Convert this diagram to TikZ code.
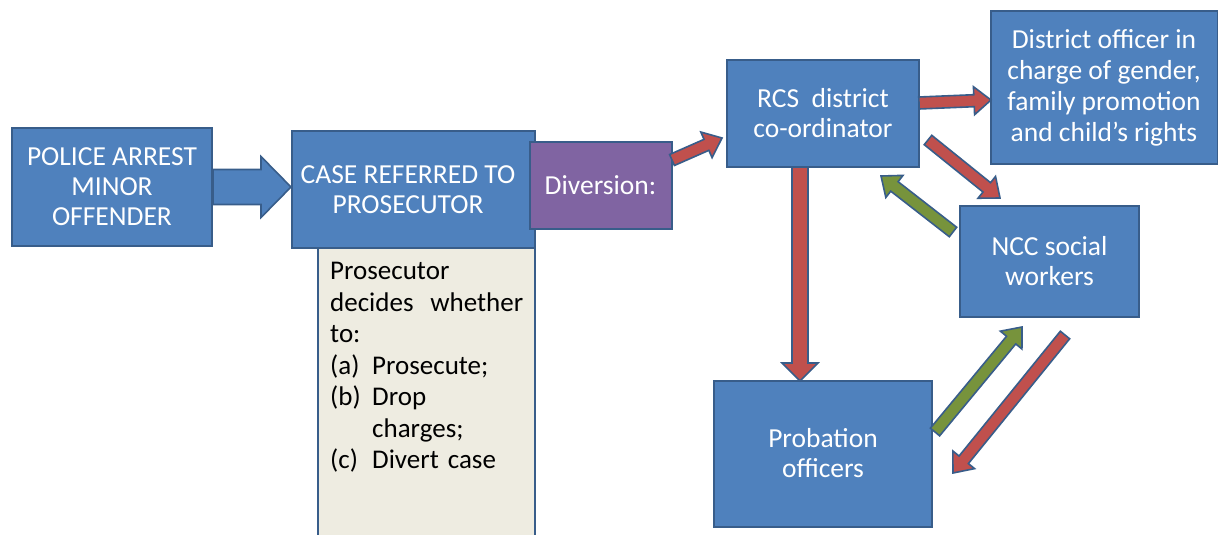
\documentclass[tikz,border=0pt]{standalone}
\usepackage{fontspec}
\setmainfont{Carlito}
\usetikzlibrary{calc}
\definecolor{boxblue}{HTML}{4F81BD}
\definecolor{edgeblue}{HTML}{385D8A}
\definecolor{divpurple}{HTML}{8064A2}
\definecolor{arrred}{HTML}{C0504D}
\definecolor{arrgreen}{HTML}{77933C}
\definecolor{beige}{HTML}{EEECE1}
\newcommand\blockarr[6]{%
  \path ($(#3)!#6!(#2)$) coordinate (bh);
  \filldraw[#1] ($(#2)!#4!90:(#3)$) -- ($(bh)!#4!-90:(#2)$) -- ($(bh)!#5!-90:(#2)$) -- (#3)
     -- ($(bh)!#5!90:(#2)$) -- ($(bh)!#4!90:(#2)$) -- ($(#2)!#4!-90:(#3)$) -- cycle;}
\tikzset{
  bluebox/.style={draw=edgeblue, line width=2pt, fill=boxblue, text=white, align=center,
    font=\fontsize{27.5}{30}\selectfont, inner sep=0pt},
  divbox/.style={bluebox, fill=divpurple},
  notebox/.style={draw=edgeblue, line width=2pt, fill=beige},
  notetext/.style={align=left, text width=193pt, inner sep=0pt, anchor=north west,
    font=\fontsize{27}{31.5}\selectfont},
  redarr/.style={fill=arrred, draw=edgeblue, line width=1.6pt, line join=miter},
  greenarr/.style={fill=arrgreen, draw=edgeblue, line width=1.6pt, line join=miter},
  fatarr/.style={fill=boxblue, draw=edgeblue, line width=1.6pt, line join=miter},
}
\begin{document}
\begin{tikzpicture}[x=1pt,y=-1pt]
\useasboundingbox (0,0) rectangle (1218,535);
% prosecutor note box (extends beyond the bottom)
\draw[notebox] (318,248) rectangle (535,560);
\node[notetext] (note) at (330,262) {Prosecutor\\
decides\hfill whether\\
to:\\
\makebox[42pt][l]{(a)}Prosecute;\\
\makebox[42pt][l]{(b)}Drop\\
\hspace*{42pt}charges;\\
\makebox[42pt][l]{(c)}\mbox{Divert case}};
% boxes
\node[bluebox, minimum width=200pt, minimum height=118pt] (police) at (112,187) {POLICE ARREST\\MINOR\\OFFENDER};
\node[bluebox, minimum width=243pt, minimum height=117pt] (case) at (413.5,189.5) {};
\node[text=white, align=center, font=\fontsize{27.5}{30}\selectfont, inner sep=0pt] (casetxt) at (408,189.5) {CASE REFERRED TO\\PROSECUTOR};
\node[divbox, minimum width=142pt, minimum height=87pt] (div) at (600.5,185) {Diversion:};
\node[bluebox, minimum width=192pt, minimum height=107pt] (rcs) at (823,113.5) {RCS\ \ district\\co-ordinator};
\node[bluebox, minimum width=227pt, minimum height=152pt, font=\fontsize{27.5}{31}\selectfont] (dist) at (1104,87.5) {District officer in\\charge of gender,\\family promotion\\and child’s rights};
\node[bluebox, minimum width=179pt, minimum height=111pt] (ncc) at (1049.5,261.5) {NCC social\\workers};
\node[bluebox, minimum width=218pt, minimum height=146pt] (prob) at (823,453.5) {Probation\\officers};
% arrow end points
\coordinate (fa1) at (police.east);
\coordinate (fa2) at (case.west |- police.east);
\coordinate (d1) at (672,160);   \coordinate (d2) at (722,138);
\coordinate (r1) at (919,103);   \coordinate (r2) at (991,100);
\coordinate (rn1) at (928,140);  \coordinate (rn2) at (1000,198);
\coordinate (nr1) at (953,232);  \coordinate (nr2) at (881,176);
\coordinate (rp1) at (800,167);  \coordinate (rp2) at (800,381);
\coordinate (pn1) at (935,432);  \coordinate (pn2) at (1022,327);
\coordinate (np1) at (1065,335); \coordinate (np2) at (953,473);
% arrows
\blockarr{fatarr}{fa1}{fa2}{17.5pt}{30.5pt}{30pt}
\blockarr{redarr}{d1}{d2}{6pt}{14pt}{17pt}
\blockarr{redarr}{r1}{r2}{6pt}{14pt}{17pt}
\blockarr{redarr}{rn1}{rn2}{6pt}{14pt}{17pt}
\blockarr{greenarr}{nr1}{nr2}{6pt}{14pt}{17pt}
\blockarr{redarr}{rp1}{rp2}{8pt}{18pt}{18pt}
\blockarr{greenarr}{pn1}{pn2}{6pt}{14pt}{17pt}
\blockarr{redarr}{np1}{np2}{6pt}{14pt}{17pt}
\end{tikzpicture}
\end{document}
